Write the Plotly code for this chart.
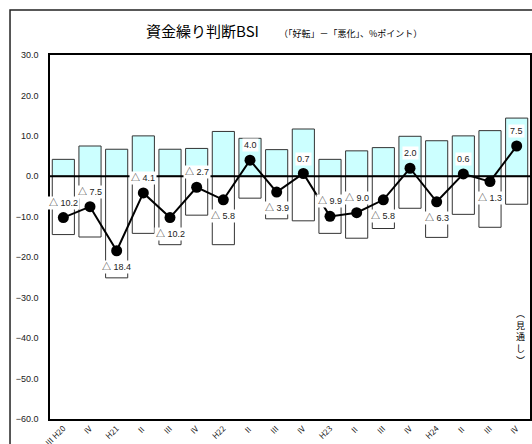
import plotly.graph_objects as go

# ---- data ----
quarters = ["Ⅲ H20", "Ⅳ", "H21", "Ⅱ", "Ⅲ", "Ⅳ", "H22", "Ⅱ", "Ⅲ", "Ⅳ",
            "H23", "Ⅱ", "Ⅲ", "Ⅳ", "H24", "Ⅱ", "Ⅲ", "Ⅳ"]
improve = [4.2, 7.5, 6.7, 10.0, 6.7, 6.9, 11.1, 9.4, 6.6, 11.7,
           4.2, 6.3, 7.1, 9.9, 8.8, 10.0, 11.3, 14.4]
worsen = [-14.4, -15.0, -25.1, -14.1, -16.9, -9.6, -16.9, -5.4, -10.5, -11.0,
          -14.1, -15.3, -12.9, -7.9, -15.1, -9.4, -12.6, -6.9]
bsi = [-10.2, -7.5, -18.4, -4.1, -10.2, -2.7, -5.8, 4.0, -3.9, 0.7,
       -9.9, -9.0, -5.8, 2.0, -6.3, 0.6, -1.3, 7.5]
label_side = ["up", "up", "down", "up", "down", "up", "down", "up", "down", "up",
              "up", "up", "down", "up", "down", "up", "down", "up"]
y_ticks = [30, 20, 10, 0, -10, -20, -30, -40, -50, -60]

xs = list(range(len(quarters)))
num_font = "Liberation Sans, Arial, Noto Sans CJK JP"
jp_font = "Noto Sans CJK JP, Liberation Sans"

fig = go.Figure()
fig.add_trace(go.Bar(x=xs, y=improve, marker=dict(color="#CCFFFF",
                     line=dict(color="#333333", width=1)), name="好転"))
fig.add_trace(go.Bar(x=xs, y=worsen, marker=dict(color="#FFFFFF",
                     line=dict(color="#333333", width=1)), name="悪化"))
fig.add_trace(go.Scatter(x=xs, y=bsi, mode="lines+markers",
                         line=dict(color="black", width=2),
                         marker=dict(color="black", size=11), name="BSI"))

def fmt(v):
    return "△ %.1f" % abs(v) if v < 0 else "%.1f" % v

for x, v, side in zip(xs, bsi, label_side):
    fig.add_annotation(x=x, y=v, xref="x", yref="y", text=fmt(v), showarrow=False,
                       xanchor="center", yanchor="middle",
                       yshift=15 if side == "up" else -16,
                       font=dict(family=num_font, size=9, color="#222222"),
                       bgcolor="white", borderpad=1)

# zero line on top of bars
fig.add_shape(type="line", xref="paper", yref="y", x0=0, x1=1, y0=0, y1=0,
              line=dict(color="black", width=2), layer="above")
# outer chart border (extends beyond visible region)
fig.add_shape(type="rect", xref="paper", yref="paper", x0=-0.0833, x1=1.05,
              y0=-0.12, y1=1.1236, line=dict(color="#222222", width=1.5))

fig.add_annotation(xref="paper", yref="paper", x=0.317, y=1.066, xanchor="center",
                   yanchor="middle", text="資金繰り判断BSI",
                   showarrow=False, font=dict(family=jp_font, size=15, color="black"))
fig.add_annotation(xref="paper", yref="paper", x=0.473, y=1.06, xanchor="left",
                   yanchor="middle",
                   text="（「好転」－「悪化」、%ポイント）", showarrow=False,
                   font=dict(family=jp_font, size=9, color="black"))
fig.add_annotation(xref="paper", yref="paper", x=0.98, y=0.225, xanchor="center",
                   yanchor="middle",
                   text="︵<br>見<br>通<br>し<br>︶", showarrow=False,
                   font=dict(family=jp_font, size=9, color="black"))

fig.update_layout(
    width=532, height=444,
    margin=dict(l=50, r=2, t=55, b=25, autoexpand=False),
    paper_bgcolor="white", plot_bgcolor="white",
    barmode="overlay", bargap=0.17, showlegend=False,
    xaxis=dict(tickvals=xs, ticktext=quarters, tickangle=-45, range=[-0.5, len(xs) - 0.5],
               showgrid=False, zeroline=False, showline=True, mirror=True,
               linecolor="black", linewidth=1.5, ticks="", automargin=False,
               tickfont=dict(family=jp_font, size=8, color="#222222")),
    yaxis=dict(range=[-60, 30], tickvals=y_ticks, tickformat=".1f",
               showgrid=False, zeroline=False, showline=True, mirror=True,
               linecolor="black", linewidth=1.5, ticks="", automargin=False,
               ticklabelstandoff=8,
               tickfont=dict(family=num_font, size=9, color="#222222")),
)

fig.write_html("out.html")
